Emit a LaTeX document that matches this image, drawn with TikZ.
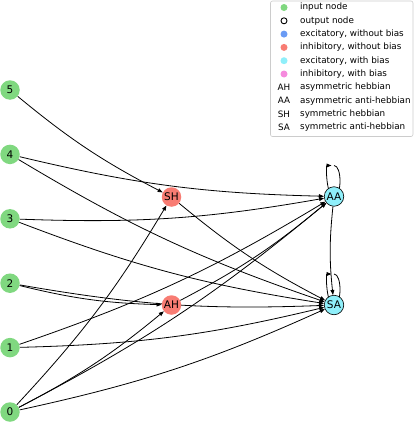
\documentclass[tikz,border=0pt]{standalone}
\usepackage{fontspec}
\setmainfont{DejaVu Sans}
\usetikzlibrary{arrows.meta,calc,backgrounds}
\definecolor{ingreen}{HTML}{80D880}
\definecolor{inhred}{HTML}{F87C73}
\definecolor{excblue}{HTML}{6A9BF4}
\definecolor{exccyan}{HTML}{8FEFFA}
\definecolor{inhpink}{HTML}{F58BDD}
\definecolor{legborder}{HTML}{CCCCCC}
\tikzset{
  nd/.style={circle, minimum size=19.5pt, inner sep=0pt, font=\fontsize{10.5}{12}\selectfont},
  innode/.style={nd, fill=ingreen},
  hidnode/.style={nd, fill=inhred},
  outnode/.style={nd, fill=exccyan, draw=black, line width=0.6pt},
  conn/.style={draw=black, line width=0.8pt, -{Triangle[length=5pt,width=3.8pt]}},
  bconn/.style={conn, bend right=6},
  lgmark/.style={circle, minimum size=7pt, inner sep=0pt},
  lgtext/.style={anchor=west, font=\fontsize{8.8}{10}\selectfont, inner sep=0pt},
  lgsym/.style={font=\fontsize{8.8}{10}\selectfont, inner sep=0pt},
}
\begin{document}
\begin{tikzpicture}[x=1pt,y=1pt]
\useasboundingbox (0,0) rectangle (415,-423);
% input nodes
\node[innode] (n5) at (10,-90) {5};
\node[innode] (n4) at (10,-154.4) {4};
\node[innode] (n3) at (10,-218.8) {3};
\node[innode] (n2) at (10,-283.2) {2};
\node[innode] (n1) at (10,-347.6) {1};
\node[innode] (n0) at (10,-412) {0};
% hidden nodes
\node[hidnode] (SH) at (171.5,-197) {SH};
\node[hidnode] (AH) at (171.5,-305) {AH};
% output nodes
\node[outnode] (AA) at (334,-196.5) {AA};
\node[outnode] (SA) at (334,-305) {SA};
\begin{scope}[on background layer]
  \path[bconn] (n5) to (SH);
  \path[bconn] (n0) to (SH);
  \path[bconn] (n2) to (AH);
  \path[bconn] (n0) to (AH);
  \path[bconn] (n4) to (AA);
  \path[bconn] (n3) to (AA);
  \path[bconn] (n1) to (AA);
  \path[bconn] (n0) to (AA);
  \path[bconn] (AH) to (AA);
  \path[bconn] (n4) to (SA);
  \path[bconn] (n3) to (SA);
  \path[bconn] (n2) to (SA);
  \path[bconn] (n1) to (SA);
  \path[bconn] (n0) to (SA);
  \path[bconn] (SH) to (SA);
  \path[bconn] (AA) to (SA);
  % self loops
  \coordinate (AAtop) at ($(AA.center)+(0,31)$);
  \coordinate (SAtop) at ($(SA.center)+(0,31)$);
  \path[conn, shorten >=2.5pt] (AAtop) .. controls ($(AAtop)+(8,0)$) and ($(AA.center)+(8,0)$) .. (AA.center)
        .. controls ($(AA.center)+(-8,0)$) and ($(AAtop)+(-8,0)$) .. (AAtop);
  \path[conn, shorten >=2.5pt] (SAtop) .. controls ($(SAtop)+(8,0)$) and ($(SA.center)+(8,0)$) .. (SA.center)
        .. controls ($(SA.center)+(-8,0)$) and ($(SAtop)+(-8,0)$) .. (SAtop);
\end{scope}
% legend
\draw[legborder, fill=white, rounded corners=2pt, line width=0.6pt] (270.5,-1) rectangle (413,-136.5);
\node[lgmark, fill=ingreen] (m1) at (284,-7.5) {};
\node[lgmark, draw=black, line width=0.9pt, minimum size=6pt] (m2) at (284,-20.8) {};
\node[lgmark, fill=excblue] (m3) at (284,-34.1) {};
\node[lgmark, fill=inhred] (m4) at (284,-47.4) {};
\node[lgmark, fill=exccyan] (m5) at (284,-60.7) {};
\node[lgmark, fill=inhpink] (m6) at (284,-74) {};
\node[lgsym] (m7) at (284,-87.3) {AH};
\node[lgsym] (m8) at (284,-100.6) {AA};
\node[lgsym] (m9) at (284,-113.9) {SH};
\node[lgsym] (m10) at (284,-127.2) {SA};
\node[lgtext] (t1) at (300,-7.5) {input node};
\node[lgtext] (t2) at (300,-20.8) {output node};
\node[lgtext] (t3) at (300,-34.1) {excitatory, without bias};
\node[lgtext] (t4) at (300,-47.4) {inhibitory, without bias};
\node[lgtext] (t5) at (300,-60.7) {excitatory, with bias};
\node[lgtext] (t6) at (300,-74) {inhibitory, with bias};
\node[lgtext] (t7) at (300,-87.3) {asymmetric hebbian};
\node[lgtext] (t8) at (300,-100.6) {asymmetric anti-hebbian};
\node[lgtext] (t9) at (300,-113.9) {symmetric hebbian};
\node[lgtext] (t10) at (300,-127.2) {symmetric anti-hebbian};
\end{tikzpicture}
\end{document}
